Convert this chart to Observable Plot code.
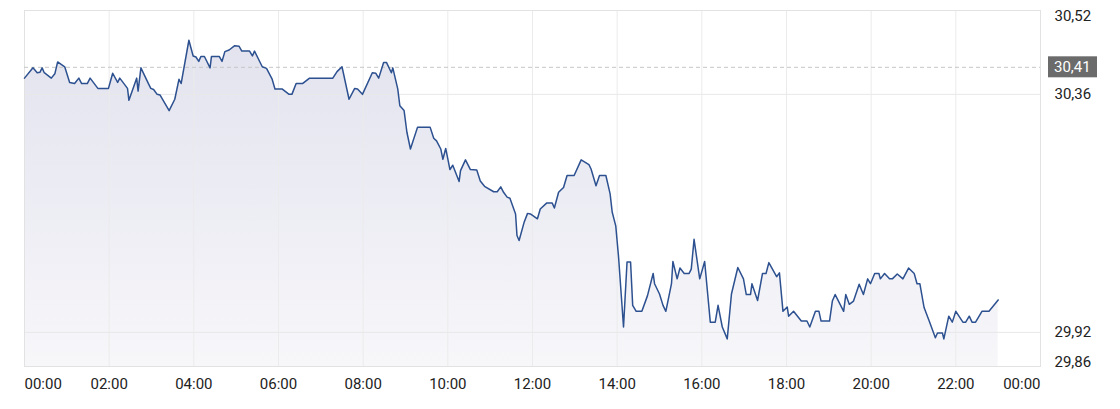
<!DOCTYPE html>
<html>
<head>
<meta charset="utf-8">
<script src="https://cdn.jsdelivr.net/npm/d3@7"></script>
<script src="https://cdn.jsdelivr.net/npm/@observablehq/plot@0.6"></script>
<style>
html, body { margin: 0; padding: 0; background: #ffffff; }
#chart { width: 1120px; height: 409px; }
</style>
</head>
<body>
<div id="chart"></div>
<script>
// ---- data ----
const times = [
"00:00","00:12","00:18","00:22","00:25","00:28","00:38","00:43","00:47","00:57",
"01:04","01:11","01:17","01:21","01:29","01:33","01:44","01:59","02:05","02:12",
"02:15","02:22","02:26","02:28","02:39","02:41","02:45","02:56","02:59","03:03",
"03:08","03:12","03:25","03:33","03:39","03:42","03:53","03:59","04:03","04:07",
"04:10","04:15","04:23","04:25","04:36","04:40","04:44","04:50","04:58","05:04",
"05:08","05:19","05:23","05:26","05:37","05:43","05:51","05:55","06:05","06:15",
"06:19","06:25","06:34","06:44","07:17","07:23","07:30","07:40","07:48","07:52",
"07:59","08:13","08:18","08:22","08:29","08:33","08:40","08:42","08:49","08:52",
"08:58","09:02","09:07","09:17","09:35","09:40","09:44","09:50","09:53","09:57",
"10:03","10:07","10:16","10:18","10:25","10:32","10:41","10:46","10:52","11:05",
"11:10","11:15","11:19","11:24","11:28","11:36","11:38","11:41","11:48","11:53",
"11:57","12:07","12:11","12:20","12:28","12:31","12:37","12:44","12:49","12:59",
"13:09","13:20","13:23","13:30","13:35","13:44","13:50","13:53","13:58","14:02",
"14:09","14:14","14:19","14:22","14:27","14:35","14:43","14:51","14:53","15:00",
"15:05","15:09","15:17","15:19","15:25","15:29","15:35","15:42","15:45","15:49",
"15:57","16:04","16:12","16:19","16:23","16:29","16:36","16:42","16:51","16:59",
"17:03","17:09","17:11","17:19","17:26","17:31","17:35","17:46","17:50","17:55",
"18:01","18:03","18:10","18:21","18:29","18:33","18:41","18:46","18:49","19:01",
"19:05","19:09","19:21","19:24","19:29","19:35","19:43","19:49","19:55","19:59",
"20:05","20:11","20:13","20:19","20:26","20:30","20:37","20:45","20:53","21:01",
"21:05","21:09","21:15","21:22","21:31","21:34","21:41","21:43","21:50","21:55",
"22:00","22:10","22:14","22:19","22:23","22:28","22:37","22:47","23:00"
];
const prices = [
30.390,30.409,30.400,30.401,30.409,30.400,30.390,30.398,30.420,30.411,
30.382,30.380,30.390,30.380,30.380,30.390,30.371,30.371,30.399,30.382,
30.390,30.378,30.371,30.349,30.390,30.366,30.409,30.379,30.371,30.369,
30.360,30.359,30.330,30.351,30.388,30.380,30.460,30.431,30.429,30.421,
30.430,30.430,30.409,30.430,30.430,30.421,30.439,30.442,30.450,30.449,
30.440,30.440,30.431,30.440,30.411,30.408,30.388,30.370,30.370,30.360,
30.360,30.380,30.380,30.390,30.390,30.402,30.411,30.351,30.371,30.370,
30.360,30.400,30.399,30.390,30.419,30.419,30.400,30.409,30.370,30.339,
30.330,30.290,30.259,30.299,30.299,30.279,30.274,30.259,30.240,30.260,
30.221,30.229,30.199,30.219,30.239,30.221,30.220,30.200,30.190,30.180,
30.180,30.189,30.179,30.170,30.168,30.139,30.099,30.090,30.123,30.140,
30.139,30.130,30.148,30.159,30.159,30.150,30.179,30.188,30.210,30.210,
30.239,30.230,30.222,30.191,30.210,30.210,30.176,30.142,30.117,30.059,
29.930,30.050,30.050,29.970,29.959,29.959,29.988,30.029,30.010,29.991,
29.970,29.959,30.010,30.051,30.019,30.039,30.029,30.029,30.037,30.092,
30.019,30.051,29.939,29.939,29.970,29.930,29.908,29.991,30.040,30.019,
29.990,29.990,30.010,29.979,30.029,30.029,30.049,30.023,30.030,29.959,
29.967,29.950,29.959,29.941,29.941,29.930,29.959,29.959,29.941,29.941,
29.978,29.990,29.959,29.990,29.972,29.978,30.009,29.990,30.019,30.010,
30.029,30.029,30.019,30.029,30.019,30.019,30.028,30.019,30.039,30.029,
30.010,30.010,29.966,29.942,29.910,29.919,29.919,29.908,29.950,29.939,
29.959,29.939,29.939,29.950,29.939,29.939,29.959,29.959,29.980
];
const xTickTimes  = ["00:00","02:00","04:00","06:00","08:00","10:00","12:00","14:00","16:00","18:00","20:00","22:00","24:00"];
const xTickLabels = ["00:00","02:00","04:00","06:00","08:00","10:00","12:00","14:00","16:00","18:00","20:00","22:00","00:00"];
const yGridValues = [30.36, 29.92];
const yTopLabel = "30,52";
const yBottomLabel = "29,86";
const lastPrice = 30.41;
const yDomain = [29.857, 30.515];

// ---- helpers ----
const toDate = (s) => { const [h, m] = s.split(":").map(Number); return new Date(Date.UTC(2024, 0, 1, h, m)); };
const fmt = (v) => v.toFixed(2).replace(".", ",");
const data = times.map((t, i) => ({date: toDate(t), price: prices[i]}));
const ticks = xTickTimes.map((t, i) => ({date: toDate(t), label: xTickLabels[i]}));
const innerTicks = ticks.slice(1, -1);

const font = "Roboto, 'Noto Sans', sans-serif";
const textColor = "#222222";

function defsMark() {
  const defs = d3.create("svg:defs");
  const g = defs.append("linearGradient").attr("id", "areaGrad")
    .attr("x1", 0).attr("y1", 0).attr("x2", 0).attr("y2", 1);
  g.append("stop").attr("offset", "0%").attr("stop-color", "#e2e3ee");
  g.append("stop").attr("offset", "100%").attr("stop-color", "#f7f7fa");
  return defs.node();
}

function priceBox(index, scales, values, dimensions) {
  const y = scales.y(lastPrice);
  const x0 = dimensions.width - dimensions.marginRight + 8;
  const g = d3.create("svg:g");
  g.append("rect").attr("x", x0).attr("y", y - 10.5).attr("width", 49).attr("height", 21).attr("fill", "#6b6b6b");
  g.append("text").attr("x", x0 + 6).attr("y", y).attr("dy", "0.35em")
    .attr("text-anchor", "start")
    .attr("fill", "#ffffff").attr("font-family", font).attr("font-size", 15)
    .text(fmt(lastPrice));
  return g.node();
}

const chart = Plot.plot({
  width: 1120,
  height: 409,
  marginLeft: 24,
  marginRight: 80,
  marginTop: 10,
  marginBottom: 43,
  style: {fontFamily: font, fontSize: "15px", background: "#ffffff", color: textColor},
  x: {type: "utc", domain: [toDate("00:00"), toDate("24:00")], axis: null},
  y: {domain: yDomain, axis: null},
  marks: [
    defsMark,
    Plot.areaY(data, {x: "date", y1: yDomain[0], y2: "price", fill: "url(#areaGrad)"}),
    Plot.ruleX(innerTicks, {x: "date", stroke: "#ebebeb", strokeWidth: 1}),
    Plot.ruleY(yGridValues, {stroke: "#e8e8e8", strokeWidth: 1}),
    Plot.frame({stroke: "#e2e2e2"}),
    Plot.ruleY([lastPrice], {stroke: "#c6c6c6", strokeDasharray: "4,3", strokeWidth: 1}),
    Plot.lineY(data, {x: "date", y: "price", stroke: "#2d5190", strokeWidth: 1.5, strokeLinejoin: "round"}),
    // x labels
    Plot.text(innerTicks, {x: "date", text: "label", frameAnchor: "bottom", dy: 22, fill: textColor, fontSize: 15}),
    Plot.text([ticks[0]], {x: "date", text: "label", frameAnchor: "bottom", dy: 22, textAnchor: "start", fill: textColor, fontSize: 15}),
    Plot.text([ticks[ticks.length - 1]], {x: "date", text: "label", frameAnchor: "bottom", dy: 22, textAnchor: "end", fill: textColor, fontSize: 15}),
    // y labels
    Plot.text(yGridValues, {y: (d) => d, text: (d) => fmt(d), frameAnchor: "right", dx: 14, textAnchor: "start", fill: textColor, fontSize: 15}),
    Plot.text([yTopLabel], {text: (d) => d, frameAnchor: "top-right", dx: 14, textAnchor: "start", lineAnchor: "top", fill: textColor, fontSize: 15}),
    Plot.text([yBottomLabel], {text: (d) => d, frameAnchor: "bottom-right", dx: 14, textAnchor: "start", lineAnchor: "bottom", fill: textColor, fontSize: 15}),
    priceBox
  ]
});
document.getElementById("chart").appendChild(chart);
</script>
</body>
</html>
